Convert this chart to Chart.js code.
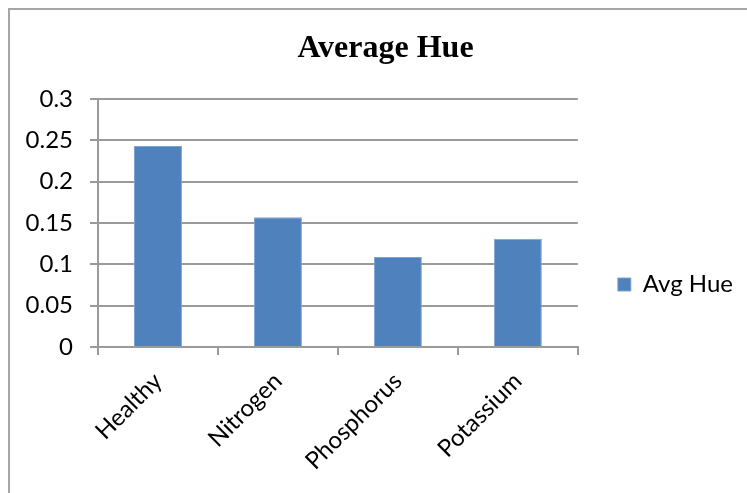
<!DOCTYPE html>
<html>
<head>
<meta charset="utf-8">
<script src="https://cdn.jsdelivr.net/npm/chart.js@4.4.1/dist/chart.umd.min.js"></script>
<style>
  html, body { margin: 0; padding: 0; background: #fff; }
  #wrap { position: relative; width: 747px; height: 493px; overflow: hidden; }
  #frame { position: absolute; left: 8px; top: 8px; width: 800px; height: 600px; border: 2px solid #a6a6a6; box-sizing: border-box; }
  #c { position: absolute; left: 0; top: 0; }
</style>
</head>
<body>
<div id="wrap">
  <div id="frame"></div>
  <canvas id="c" width="747" height="493"></canvas>
</div>
<script>
const chartTitle = "Average Hue";
const categories = ["Healthy", "Nitrogen", "Phosphorus", "Potassium"];
const seriesName = "Avg Hue";
const avgHue = [0.243, 0.157, 0.109, 0.131];
const yTicks = [0, 0.05, 0.1, 0.15, 0.2, 0.25, 0.3];

const labelFont = { family: "Lato, 'Open Sans', sans-serif", size: 24 };
const gridColor = "#9a9a9a";

const nudge = {
  id: "nudge",
  afterLayout(chart) {
    const lg = chart.legend;
    if (lg) { lg.top += 38; lg.bottom += 38; lg.left -= 4; lg.right -= 4; }
    const tb = chart.titleBlock;
    if (tb) { tb.left += 12; tb.right += 12; }
  }
};

new Chart(document.getElementById("c"), {
  type: "bar",
  data: {
    labels: categories,
    datasets: [{
      label: seriesName,
      data: avgHue,
      backgroundColor: "#4f81bd",
      borderColor: "#7fa4d2",
      borderWidth: 1,
      barPercentage: 0.4,
      categoryPercentage: 1.0
    }]
  },
  options: {
    responsive: false,
    animation: false,
    layout: { padding: 0 },
    plugins: {
      title: {
        display: true,
        text: chartTitle,
        color: "#000",
        font: { family: "'Liberation Serif', 'Times New Roman', serif", size: 32, weight: "bold", lineHeight: 1.2 },
        padding: { top: 30, bottom: 30.6 }
      },
      legend: {
        display: true,
        position: "right",
        labels: {
          color: "#000",
          font: labelFont,
          boxWidth: 13,
          boxHeight: 13,
          padding: 44
        }
      },
      tooltip: { enabled: false }
    },
    scales: {
      x: {
        offset: true,
        afterFit(scale) { scale.height = 146; },
        grid: { display: true, drawOnChartArea: false, drawTicks: true, tickLength: 8, color: gridColor, lineWidth: 2, offset: true },
        border: { display: true, color: gridColor, width: 2 },
        ticks: { color: "#000", font: labelFont, maxRotation: 45, minRotation: 45, padding: 12 }
      },
      y: {
        min: 0,
        max: 0.3,
        afterFit(scale) { scale.width = 98; },
        afterBuildTicks(scale) { scale.ticks = yTicks.map(v => ({ value: v })); },
        grid: { color: gridColor, lineWidth: 2, tickLength: 8 },
        border: { display: true, color: gridColor, width: 2 },
        ticks: { color: "#000", font: labelFont, padding: 17, callback: v => String(v) }
      }
    }
  },
  plugins: [nudge]
});
</script>
</body>
</html>
